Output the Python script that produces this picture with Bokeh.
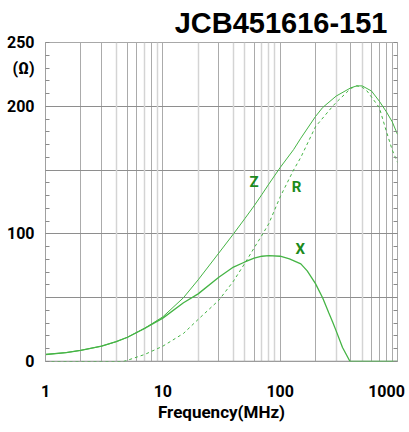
from bokeh.plotting import figure
from bokeh.models import (FixedTicker, LinearAxis, Grid, LabelSet,
                          ColumnDataSource, Range1d)
from bokeh.core.properties import value
from bokeh.embed import file_html
from bokeh.resources import INLINE

# ---------------- data ----------------
title_text = "JCB451616-151"

z_freq = [1, 1.5, 2, 3, 4, 5, 7, 10, 15, 20, 30, 40, 50, 60, 70, 80, 100, 130, 150,
          200, 230, 300, 400, 450, 500, 600, 700, 800, 900, 1000]
z_vals = [5.5, 7, 8.8, 12, 15.5, 19, 26, 35, 50, 64, 85, 100, 112, 122, 131, 139, 152, 166, 175,
          192, 199, 208, 214.5, 216, 216, 212, 204, 196, 188, 178]

r_freq = [1, 2, 3, 4, 4.6, 5, 7, 10, 15, 20, 30, 40, 50, 60, 70, 80, 100, 130, 150,
          200, 280, 300, 400, 450, 500, 550, 700, 800, 900, 1000]
r_vals = [0, 0, 0, 0, 0, 1, 5.5, 12, 22, 33, 48, 63, 77, 89, 99, 108, 129, 150, 160,
          184, 200, 203, 214, 216, 215, 212, 199, 181, 166, 156]

x_freq = [1, 1.5, 2, 3, 4, 5, 7, 10, 15, 20, 30, 40, 50, 60, 70, 80, 100, 120, 150, 170,
          200, 230, 260, 280, 300, 340, 394, 500, 700, 1000]
x_vals = [5.5, 7, 8.8, 12, 15.5, 19, 26, 34, 46, 53, 66, 74, 78, 81, 82.5, 83, 82.5, 80.5, 76.5, 71,
          61, 50, 38, 31, 24, 11, 0, 0, 0, 0]

x_tick_vals = [1, 10, 100, 1000]
x_tick_text = ["1", "10", "100", "1000"]
y_tick_vals = [0, 100, 200, 230, 250]
y_tick_text = ["0", "100", "200", "(Ω)", "250"]
y_minor = list(range(0, 251, 10))
h_grid = [50, 100, 150, 200]
v_grid_dark = [2, 3, 5, 6, 8, 10, 30, 60, 100, 200, 400, 600, 700, 800, 900]
v_grid_light = [4, 7, 9, 20, 40, 50, 70, 80, 90, 300, 500, 1000]

curve_labels = ["Z", "R", "X"]
curve_label_f = [60, 138, 148]
curve_label_v = [141, 137, 88]

# ---------------- figure ----------------
FONT = "Roboto"
GREEN = "#45b445"
LABEL_GREEN = "#1c8a1c"
DECADE_PX = 352 / 3.0   # frame width / number of decades

p = figure(width=409, height=432, x_axis_type="log",
           x_range=Range1d(1, 1000), y_range=Range1d(0, 250),
           output_backend="svg", toolbar_location=None,
           min_border_left=45, min_border_right=12, min_border_top=42,
           min_border_bottom=71, background_fill_color="white",
           border_fill_color="white", outline_line_color="#a8a8a8")

# title
p.title.text = title_text
p.title.align = "right"
p.title.offset = 10
p.title.standoff = 7
p.title.text_font = "Liberation Sans"
p.title.text_font_style = "bold"
p.title.text_font_size = "29px"
p.title.text_color = "black"

# bottom axis: tick labels (the last label is nudged left to stay inside the page)
last_pos = x_tick_vals[-1] * 10 ** (-11 / DECADE_PX)
xpos = x_tick_vals[:-1] + [last_pos]
xax = p.xaxis[0]
xax.ticker = FixedTicker(ticks=xpos, minor_ticks=[])
xax.major_label_overrides = {float(v): t for v, t in zip(xpos, x_tick_text)}
xax.major_tick_in = 0
xax.major_tick_out = 0
xax.axis_line_color = None
xax.major_label_standoff = 23
xax.major_label_text_font = FONT
xax.major_label_text_font_style = "bold"
xax.major_label_text_font_size = "16px"
xax.major_label_text_color = "black"
xax.axis_label = "Frequency(MHz)"
xax.axis_label_standoff = 2
xax.axis_label_text_font = FONT
xax.axis_label_text_font_style = "bold"
xax.axis_label_text_font_size = "17px"
xax.axis_label_text_color = "black"

# left axis (the unit text sits as a label just under "250")
yax = p.yaxis[0]
yax.ticker = FixedTicker(ticks=y_tick_vals, minor_ticks=y_minor)
yax.major_label_overrides = {float(v): t for v, t in zip(y_tick_vals, y_tick_text)}
yax.major_tick_out = 0
yax.major_tick_in = 0
yax.minor_tick_in = 4
yax.minor_tick_out = 0
yax.minor_tick_line_color = "#8a8a8a"
yax.axis_line_color = "#a0a0a0"
yax.major_label_text_font = FONT
yax.major_label_text_font_style = "bold"
yax.major_label_text_font_size = "16px"
yax.major_label_text_color = "black"
yax.major_label_standoff = 11

# right axis (minor ticks only)
rax = LinearAxis(ticker=FixedTicker(ticks=[], minor_ticks=y_minor),
                 major_label_text_font_size="0px", major_label_standoff=0,
                 major_tick_in=0, major_tick_out=0, minor_tick_in=4, minor_tick_out=0,
                 minor_tick_line_color="#8a8a8a", axis_line_color=None)
p.add_layout(rax, "right")

# grids
p.ygrid.ticker = FixedTicker(ticks=h_grid)
p.ygrid.grid_line_color = "#8e8e8e"
p.ygrid.grid_line_width = 1
p.xgrid.ticker = FixedTicker(ticks=v_grid_dark)
p.xgrid.grid_line_color = "#ababab"
p.xgrid.grid_line_width = 1
light_grid = Grid(dimension=0, ticker=FixedTicker(ticks=v_grid_light),
                  grid_line_color="#d4d4d4", grid_line_width=1.5)
p.add_layout(light_grid, "center")

# bottom line (0 level)
p.line(x=[1, 1000], y=[0, 0], line_color="#909090", line_width=1.5)

# curves
p.line(z_freq, z_vals, line_color=GREEN, line_width=1)
p.line(x_freq, x_vals, line_color=GREEN, line_width=1.3)
p.line(r_freq, r_vals, line_color=GREEN, line_width=1, line_dash="3 3")

# curve labels
lab_src = ColumnDataSource(dict(x=curve_label_f, y=curve_label_v, t=curve_labels))
p.add_layout(LabelSet(x="x", y="y", text="t", source=lab_src,
                      text_font=value(FONT), text_font_style="bold", text_font_size="15px",
                      text_color=LABEL_GREEN, text_align="center",
                      text_baseline="middle"))

open("out.html", "w").write(file_html(p, INLINE))
